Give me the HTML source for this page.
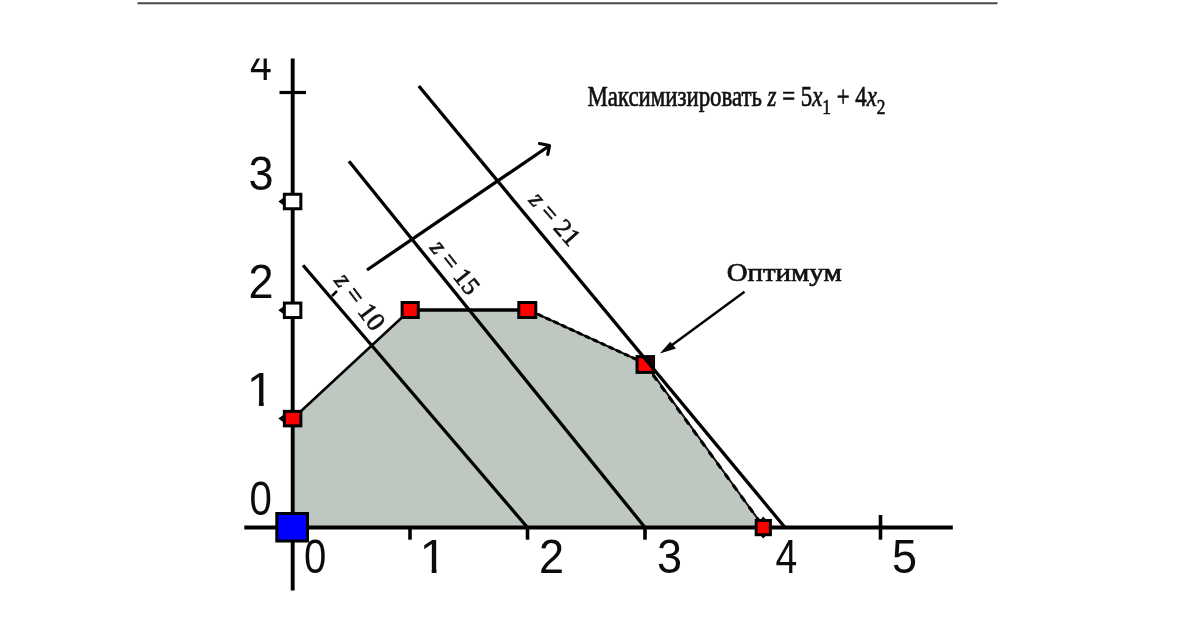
<!DOCTYPE html>
<html lang="ru">
<head>
<meta charset="utf-8">
<title>График</title>
<style>
html,body{margin:0;padding:0;background:#fff;}
body{width:1200px;height:629px;overflow:hidden;position:relative;}
svg{position:absolute;left:0;top:0;display:block;}
.ax{font-family:"Liberation Sans",sans-serif;font-size:49px;fill:#0c0c0c;}
.sr{font-family:"Liberation Serif",serif;fill:#111;stroke:#111;stroke-width:0.7;}
</style>
</head>
<body>
<svg width="1200" height="629" viewBox="0 0 1200 629">
  <defs>
    <clipPath id="cliptop"><rect x="200" y="58.5" width="800" height="571"/></clipPath>
    <clipPath id="one"><path d="M-3,-40 L18,-40 L18,-4.3 L16.9,-4.3 L16.9,2 L12.1,2 L12.1,-4.3 L-3,-4.3 Z"/></clipPath>
  </defs>
  <!-- top rule -->
  <line x1="137.5" y1="3.3" x2="997.5" y2="3.3" stroke="#484848" stroke-width="2"/>

  <!-- feasible region -->
  <polygon points="292.5,419 410,310 527.5,309.5 645.5,363.6 764,527.5 292.5,527.5" fill="#bec8c0"/>
  <line x1="292.5" y1="419" x2="410" y2="310" stroke="#000" stroke-width="2.5"/>
  <line x1="410" y1="310" x2="527.5" y2="310" stroke="#000" stroke-width="3.6"/>
  <polyline points="527.5,309.5 645.5,363.6 764,527.5" fill="none" stroke="#111" stroke-width="2"/>
  <line x1="531" y1="311.1" x2="645.5" y2="363.6" stroke="#000" stroke-width="3" stroke-dasharray="3.2 5.43" stroke-linecap="round"/>
  <line x1="645.5" y1="364.5" x2="764" y2="527.5" stroke="#000" stroke-width="3" stroke-dasharray="5 8.6" stroke-linecap="round"/>

  <!-- axes -->
  <line x1="292.7" y1="58.5" x2="292.7" y2="590.5" stroke="#000" stroke-width="3.9"/>
  <line x1="244.3" y1="527.5" x2="952.8" y2="527.5" stroke="#000" stroke-width="3.9"/>
  <!-- ticks -->
  <line x1="279.5" y1="92.5" x2="306" y2="92.5" stroke="#000" stroke-width="3.2"/>
  <line x1="410" y1="527" x2="410" y2="539.7" stroke="#000" stroke-width="3.6"/>
  <line x1="527.5" y1="527" x2="527.5" y2="539.7" stroke="#000" stroke-width="3.6"/>
  <line x1="645" y1="527" x2="645" y2="539.7" stroke="#000" stroke-width="3.6"/>
  <line x1="880.5" y1="515" x2="880.5" y2="539.7" stroke="#000" stroke-width="3.6"/>

  <!-- z lines -->
  <line x1="303" y1="265.3" x2="527.5" y2="527.5" stroke="#000" stroke-width="3.3"/>
  <line x1="349" y1="161.3" x2="645" y2="527.5" stroke="#000" stroke-width="3.3"/>
  <line x1="332" y1="296" x2="337" y2="291" stroke="#000" stroke-width="2.5"/>

  <!-- direction arrow -->
  <line x1="367" y1="270" x2="549" y2="146" stroke="#000" stroke-width="3.3"/>
  <polyline points="539.5,143.5 549.5,145.5 547.7,154.5" fill="none" stroke="#000" stroke-width="3.2" stroke-linecap="round" stroke-linejoin="round"/>

  <!-- optimum arrow -->
  <line x1="744.5" y1="291.7" x2="670" y2="346.5" stroke="#000" stroke-width="2.4"/>
  <polygon points="659.9,353.6 670.2,341.8 676,348.6" fill="#000"/>

  <!-- markers -->
  <g fill="#000">
    <polygon points="278.3,201.5 284.5,197.0 284.5,206.0"/>
    <polygon points="278.3,310.3 284.5,305.8 284.5,314.8"/>
    <polygon points="278.3,418.6 284.5,414.1 284.5,423.1"/>
    <polygon points="763.3,516.5 759.5,520.5 767,520.5"/>
    <polygon points="763.3,538.5 759.5,534.5 767,534.5"/>
  </g>
  <g stroke="#000" stroke-width="3">
    <rect x="284.35" y="194.25" width="16.5" height="14.5" fill="#fff"/>
    <rect x="284.35" y="303.05" width="16.5" height="14.5" fill="#fff"/>
    <rect x="284.35" y="411.35" width="16.5" height="14.5" fill="#f00"/>
    <rect x="402.10" y="302.50" width="16.2" height="15" fill="#f00"/>
    <rect x="518.80" y="302.50" width="17" height="15" fill="#f00"/>
    <rect x="637.05" y="356.60" width="16.5" height="15.8" fill="#f00"/>
    <rect x="756.20" y="520.50" width="14.2" height="14.2" fill="#f00"/>
    <rect x="276.8" y="513.5" width="30.7" height="27.5" fill="#00f"/>
  </g>
  <polygon points="643,357 653.5,357 653.5,369.5" fill="#1a0000"/>
  <line x1="418.8" y1="86" x2="785" y2="527.5" stroke="#000" stroke-width="3.3"/>

  <!-- axis numbers -->
  <g class="ax" clip-path="url(#cliptop)">
    <text transform="translate(250,79.8) scale(0.8,1)">4</text>
    <text transform="translate(248.6,189.5) scale(0.92,1)">3</text>
    <text transform="translate(248.6,297.5) scale(0.92,1)">2</text>
    <text transform="translate(246.8,405.5)" clip-path="url(#one)">1</text>
    <text transform="translate(249.6,515.2) scale(0.82,1)">0</text>
    <text transform="translate(303.9,572.5) scale(0.82,1)">0</text>
    <text transform="translate(419.6,572.7)" clip-path="url(#one)">1</text>
    <text transform="translate(539,573.3) scale(0.92,1)">2</text>
    <text transform="translate(657,573.3) scale(0.92,1)">3</text>
    <text transform="translate(775.5,572.8) scale(0.8,1)">4</text>
    <text transform="translate(892,573.3) scale(0.92,1)">5</text>
  </g>

  <!-- labels -->
  <text class="sr" x="587.5" y="106.3" font-size="29" textLength="298" lengthAdjust="spacingAndGlyphs">Максимизировать <tspan font-style="italic">z</tspan> = 5<tspan font-style="italic">x</tspan><tspan font-size="22" dy="8">1</tspan><tspan dy="-8"> + 4</tspan><tspan font-style="italic">x</tspan><tspan font-size="22" dy="8">2</tspan></text>
  <text class="sr" x="726.7" y="281.4" font-size="25" textLength="115" lengthAdjust="spacingAndGlyphs">Оптимум</text>

  <text class="sr" font-size="26.5" transform="translate(333.5,280.7) rotate(53)"><tspan font-style="italic">z</tspan> = 10</text>
  <text class="sr" font-size="25.4" transform="translate(429.3,247.9) rotate(51.5)"><tspan font-style="italic">z</tspan> = 15</text>
  <text class="sr" font-size="25.5" transform="translate(527.9,200.7) rotate(48.5)"><tspan font-style="italic">z</tspan> = 21</text>
</svg>
</body>
</html>
